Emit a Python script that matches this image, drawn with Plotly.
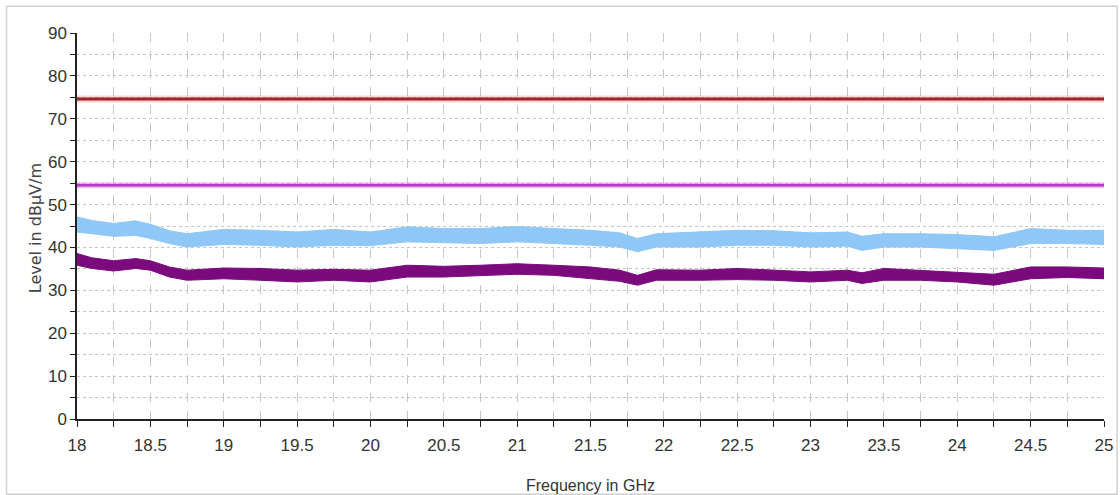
import plotly.graph_objects as go

# ---------------- data ----------------
freq_ghz = [18.0, 18.1, 18.25, 18.4, 18.5, 18.63, 18.75, 19.0, 19.25, 19.5, 19.75,
            20.0, 20.25, 20.5, 20.75, 21.0, 21.25, 21.5, 21.7, 21.82, 21.95, 22.25,
            22.5, 22.75, 23.0, 23.25, 23.35, 23.5, 23.75, 24.0, 24.25, 24.5, 24.75, 25.0]

peak_upper = [47.1, 46.3, 45.6, 46.2, 45.4, 43.9, 43.2, 44.2, 44.0, 43.6, 44.2,
              43.6, 44.8, 44.4, 44.4, 44.9, 44.4, 44.0, 43.4, 42.1, 43.2, 43.6,
              44.0, 43.9, 43.4, 43.6, 42.6, 43.2, 43.2, 43.0, 42.5, 44.4, 44.0, 44.0]
peak_lower = [43.6, 43.2, 42.6, 42.8, 42.1, 40.9, 40.1, 40.7, 40.5, 40.1, 40.5,
              40.4, 41.3, 41.1, 40.9, 41.3, 40.9, 40.5, 40.1, 39.0, 40.1, 40.1,
              40.5, 40.5, 40.1, 40.3, 39.3, 40.1, 40.1, 39.7, 39.3, 40.9, 40.9, 40.7]

avg_upper = [38.6, 37.6, 36.9, 37.4, 36.9, 35.45, 34.7, 35.2, 35.1, 34.7, 34.9,
             34.7, 35.85, 35.6, 35.85, 36.2, 35.85, 35.45, 34.7, 33.5, 34.8, 34.7,
             35.1, 34.7, 34.3, 34.7, 34.1, 35.1, 34.7, 34.3, 33.75, 35.45, 35.45, 35.2]
avg_lower = [35.85, 35.1, 34.5, 35.1, 34.7, 33.1, 32.35, 32.7, 32.35, 31.95, 32.35,
             31.95, 33.1, 33.1, 33.5, 33.75, 33.5, 32.7, 32.1, 31.2, 32.35, 32.35,
             32.5, 32.35, 31.95, 32.35, 31.6, 32.35, 32.35, 31.95, 31.2, 32.7, 33.0, 32.7]

limit_range = [18.0, 25.0]
peak_limit = 74.6
avg_limit = 54.5

x_ticks = [18, 18.5, 19, 19.5, 20, 20.5, 21, 21.5, 22, 22.5, 23, 23.5, 24, 24.5, 25]
y_ticks = [0, 10, 20, 30, 40, 50, 60, 70, 80, 90]

x_title = "Frequency in GHz"
y_title = "Level in dBµV/m"

# ---------------- figure ----------------
NARROW = "Liberation Sans Narrow, Arial Narrow, Liberation Sans, Arial, sans-serif"

fig = go.Figure()

# limit lines (halo + line)
fig.add_trace(go.Scatter(x=limit_range, y=[peak_limit, peak_limit], mode="lines",
                         line=dict(color="rgba(240,130,130,0.35)", width=7),
                         hoverinfo="skip", showlegend=False))
fig.add_trace(go.Scatter(x=limit_range, y=[peak_limit, peak_limit], mode="lines",
                         line=dict(color="#9E2529", width=3), showlegend=False))
fig.add_trace(go.Scatter(x=limit_range, y=[avg_limit, avg_limit], mode="lines",
                         line=dict(color="rgba(225,130,230,0.55)", width=6),
                         hoverinfo="skip", showlegend=False))
fig.add_trace(go.Scatter(x=limit_range, y=[avg_limit, avg_limit], mode="lines",
                         line=dict(color="#B63ABF", width=2.5), showlegend=False))

# peak trace band (light blue)
fig.add_trace(go.Scatter(x=freq_ghz + freq_ghz[::-1], y=peak_upper + peak_lower[::-1],
                         mode="lines", fill="toself", fillcolor="#8FC7F6",
                         line=dict(color="#8FC7F6", width=1), showlegend=False))
# average trace band (purple)
fig.add_trace(go.Scatter(x=freq_ghz + freq_ghz[::-1], y=avg_upper + avg_lower[::-1],
                         mode="lines", fill="toself", fillcolor="#7B0A7D",
                         line=dict(color="#7B0A7D", width=1), showlegend=False))

grid_col = "#C4C4C4"

fig.update_layout(
    width=1120, height=495, autosize=False,
    margin=dict(l=77, r=16, t=33, b=76),
    paper_bgcolor="white", plot_bgcolor="white",
    showlegend=False,
    xaxis=dict(
        range=[18, 25], tickvals=x_ticks, ticktext=[f"{v:g}" for v in x_ticks],
        ticks="outside", ticklen=6, tickcolor="#222", tickwidth=1,
        showline=True, linecolor="#222", linewidth=1.5,
        showgrid=True, gridcolor=grid_col, griddash="dash", gridwidth=1,
        minor=dict(dtick=0.25, tick0=18, ticks="outside", ticklen=6, tickcolor="#222",
                   showgrid=True, gridcolor=grid_col, griddash="dash"),
        zeroline=False, ticklabelstandoff=4, automargin=False,
        tickfont=dict(family=NARROW, size=17, color="#333"),
    ),
    yaxis=dict(
        range=[0, 90], tickvals=y_ticks,
        ticks="outside", ticklen=5, tickcolor="#222", tickwidth=1,
        showline=True, linecolor="#222", linewidth=1.5,
        showgrid=True, gridcolor=grid_col, griddash="dot", gridwidth=1,
        minor=dict(dtick=5, tick0=0, ticks="outside", ticklen=5, tickcolor="#222",
                   showgrid=True, gridcolor=grid_col, griddash="dot"),
        zeroline=False, automargin=False,
        tickfont=dict(family=NARROW, size=17, color="#333"),
    ),
    annotations=[
        dict(text=x_title, xref="paper", yref="paper", x=0.5, y=-0.172,
             xanchor="center", yanchor="middle", showarrow=False,
             font=dict(family=NARROW, size=16, color="#333")),
        dict(text=y_title, xref="paper", yref="paper", x=-0.041, y=0.494,
             xanchor="center", yanchor="middle", showarrow=False, textangle=-90,
             font=dict(family="DejaVu Sans", size=16, color="#444")),
    ],
    shapes=[dict(type="rect", xref="paper", yref="paper",
                 x0=-0.0686, x1=1.0127, y0=-0.195, y1=1.069,
                 line=dict(color="#D0D0D0", width=1.5), layer="below")],
)

fig.write_html("out.html", config={"displayModeBar": False},
               post_script="document.body.style.margin='0';document.body.style.overflow='hidden';")
